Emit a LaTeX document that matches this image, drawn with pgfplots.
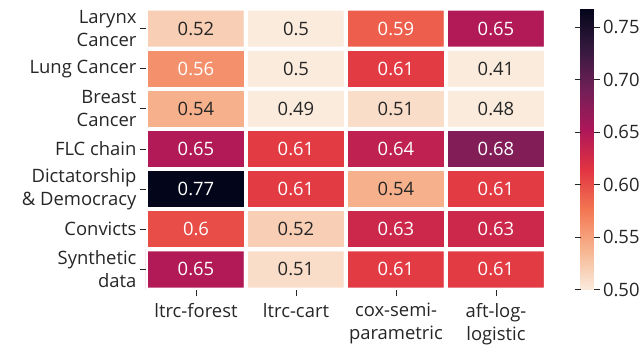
\documentclass[border=0pt]{standalone}
\usepackage{pgfplots}
\usepackage{pgfplotstable}
\pgfplotsset{compat=1.18}
\usepackage{fontspec}
\setmainfont{Open Sans}
\definecolor{txt}{HTML}{262626}
\pgfplotsset{colormap={rocketr}{
 rgb255(0)=(250,235,221)
 rgb255(1)=(246,180,143)
 rgb255(2)=(243,118,81)
 rgb255(3)=(225,51,66)
 rgb255(4)=(173,23,89)
 rgb255(5)=(112,31,87)
 rgb255(6)=(53,25,62)
 rgb255(7)=(3,5,26)
}}
% y = row index from the top (matrix plot reverses the y axis)
\pgfplotstableread{
x y v
0 0 0.52
1 0 0.50
2 0 0.59
3 0 0.65
0 1 0.56
1 1 0.50
2 1 0.61
3 1 0.41
0 2 0.54
1 2 0.49
2 2 0.51
3 2 0.48
0 3 0.65
1 3 0.61
2 3 0.64
3 3 0.68
0 4 0.77
1 4 0.61
2 4 0.54
3 4 0.61
0 5 0.60
1 5 0.52
2 5 0.63
3 5 0.63
0 6 0.65
1 6 0.51
2 6 0.61
3 6 0.61
}\heat
\pgfplotstableread{
x y l
2 0 0.59
3 0 0.65
0 1 0.56
2 1 0.61
0 3 0.65
1 3 0.61
2 3 0.64
3 3 0.68
0 4 0.77
1 4 0.61
3 4 0.61
0 5 0.6
2 5 0.63
3 5 0.63
0 6 0.65
2 6 0.61
3 6 0.61
}\whitelab
\pgfplotstableread{
x y l
0 0 0.52
1 0 0.5
1 1 0.5
3 1 0.41
0 2 0.54
1 2 0.49
2 2 0.51
3 2 0.48
2 4 0.54
1 5 0.52
1 6 0.51
}\darklab
\begin{document}
\begin{tikzpicture}
\path[use as bounding box] (-146bp,-59.5bp) rectangle (495bp,289.5bp);
\begin{axis}[
  at={(0,0)}, anchor=south west,
  scale only axis, width=400bp, height=281bp,
  xmin=-0.5, xmax=3.5, ymin=-0.5, ymax=6.5, enlargelimits=false,
  y dir=reverse,
  axis line style={draw=none},
  font=\fontsize{18.5}{23}\selectfont,
  tick style={txt, line width=0.8bp},
  major tick length=6bp, tick align=outside,
  xtick pos=bottom, ytick pos=left,
  xtick={0,1,2,3}, ytick={0,...,6},
  xticklabels={ltrc-forest, ltrc-cart, {cox-semi-\\parametric}, {aft-log-\\logistic}},
  yticklabels={{Larynx\\Cancer}, Lung Cancer, {Breast\\Cancer}, FLC chain, {Dictatorship\\\& Democracy}, Convicts, {Synthetic\\data}},
  xticklabel style={align=center, text=txt, anchor=north, yshift=-4bp},
  yticklabel style={align=right, text=txt},
  colormap name=rocketr,
  point meta min=0.5, point meta max=0.768,
  colorbar,
  colorbar style={
    at={(parent axis.north east)}, anchor=north west, xshift=26bp,
    width=13bp, height=281bp,
    axis line style={draw=none},
    ytick={0.5,0.55,...,0.75},
    yticklabel style={text=txt, /pgf/number format/fixed, /pgf/number format/zerofill, /pgf/number format/precision=2, /pgf/number format/assume math mode=true},
    tick style={txt, line width=0.8bp},
    major tick length=6bp, tick align=outside,
    font=\fontsize{18.5}{23}\selectfont,
  },
]
\addplot[matrix plot, mesh/cols=4, point meta=explicit, draw=white, line width=4bp] table[x=x, y=y, meta=v] {\heat};
\addplot[only marks, mark=*, mark size=0pt, point meta=explicit symbolic,
  nodes near coords, nodes near coords align={center},
  every node near coord/.append style={text=white, font=\fontsize{18.5}{23}\selectfont}] table[x=x, y=y, meta=l] {\whitelab};
\addplot[only marks, mark=*, mark size=0pt, point meta=explicit symbolic,
  nodes near coords, nodes near coords align={center},
  every node near coord/.append style={text=txt, font=\fontsize{18.5}{23}\selectfont}] table[x=x, y=y, meta=l] {\darklab};
\end{axis}
\end{tikzpicture}
\end{document}
